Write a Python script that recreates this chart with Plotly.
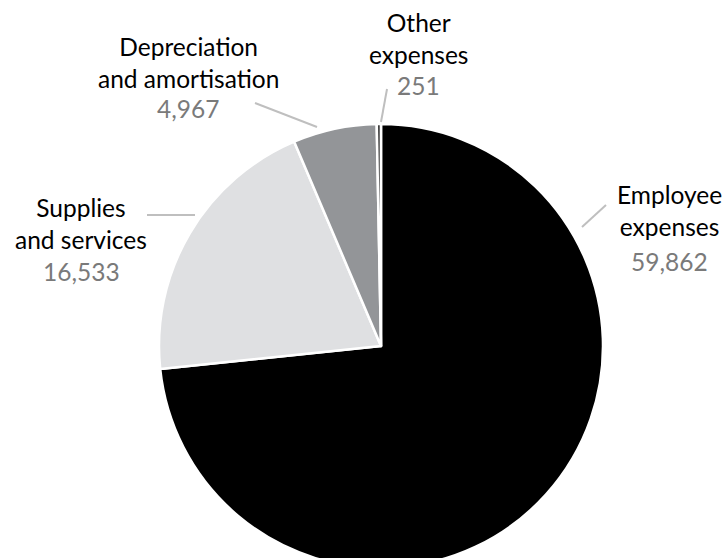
import plotly.graph_objects as go

# Expense breakdown
categories = ["Employee expenses", "Supplies and services",
              "Depreciation and amortisation", "Other expenses"]
label_text = ["Employee<br>expenses", "Supplies<br>and services",
              "Depreciation<br>and amortisation", "Other<br>expenses"]
values = [59862, 16533, 4967, 251]
colors = ["#000000", "#dfe0e2", "#939598", "#3d3d3d"]

# Canvas and pie geometry in pixels (the pie runs past the bottom edge)
W, H = 728, 600
CX, CY, R = 381, 346, 222

# Label layout: centre x, mid-baseline of the two name lines, value baseline
label_pos = [(669, 219.5, 271), (81, 233, 280.5),
             (188, 72, 118), (419, 47.5, 95)]
# Leader lines from label towards the slice
leaders = [((582, 227), (606, 205)), ((147, 215), (195, 215)),
           ((255, 103), (317, 127)), ((387, 89), (381, 122))]

FONT = "Lato"
SIZE = 24.5
NAME_COLOR = "#000000"
VALUE_COLOR = "#7a7a7a"
LEADER_COLOR = "#bfbfbf"


def px(x):
    return x / W


def py(y):
    return 1 - y / H


fig = go.Figure()
fig.add_trace(go.Pie(
    labels=categories,
    values=values,
    sort=False,
    direction="clockwise",
    rotation=0,
    marker=dict(colors=colors, line=dict(color="#ffffff", width=2.5)),
    textinfo="none",
    hoverinfo="label+value",
    showlegend=False,
    domain=dict(x=[px(CX - R), px(CX + R)], y=[py(CY + R), py(CY - R)]),
))

annotations = []
for name, val, (cx, bmid, bv) in zip(label_text, values, label_pos):
    annotations.append(dict(
        x=px(cx), y=py(bmid - 0.387 * SIZE), xref="paper", yref="paper",
        xanchor="center", yanchor="middle", align="center", showarrow=False,
        text=name, font=dict(family=FONT, size=SIZE, color=NAME_COLOR),
    ))
    annotations.append(dict(
        x=px(cx), y=py(bv - 0.387 * SIZE), xref="paper", yref="paper",
        xanchor="center", yanchor="middle", showarrow=False,
        text=f"{val:,}", font=dict(family=FONT, size=SIZE, color=VALUE_COLOR),
    ))

shapes = [dict(type="line", xref="paper", yref="paper",
               x0=px(a[0]), y0=py(a[1]), x1=px(b[0]), y1=py(b[1]),
               line=dict(color=LEADER_COLOR, width=2))
          for a, b in leaders]

fig.update_layout(
    width=W, height=H,
    margin=dict(l=0, r=0, t=0, b=0),
    paper_bgcolor="#ffffff", plot_bgcolor="#ffffff",
    annotations=annotations, shapes=shapes,
)

fig.write_html(
    "out.html",
    post_script=("document.documentElement.style.overflow='hidden';"
                 "document.body.style.overflow='hidden';"
                 "document.body.style.margin='0';"),
)
